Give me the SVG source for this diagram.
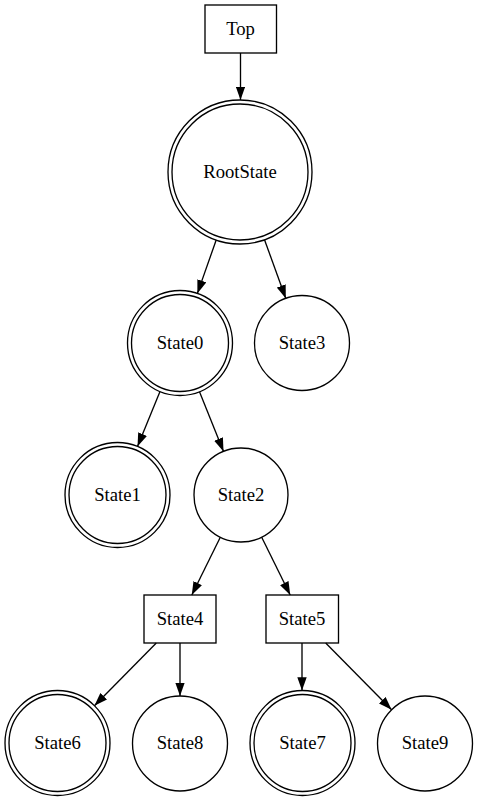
<svg xmlns="http://www.w3.org/2000/svg" width="477" height="801" viewBox="0 0 477 801">
<style>
.n{fill:none;stroke:#000;stroke-width:1.33}
.t{font-family:'Liberation Serif','DejaVu Serif','Noto Serif',Times,serif;font-size:18.67px;text-anchor:middle;fill:#000}
.e{stroke:#000;stroke-width:1.33;fill:none}
</style>
<defs>
<marker id="ah" viewBox="0 0 13.3 9.4" refX="13.3" refY="4.7" markerWidth="13.3" markerHeight="9.4" markerUnits="userSpaceOnUse" orient="auto">
<polygon points="0,0 13.3,4.7 0,9.4" fill="#000"/>
</marker>
</defs>
<rect width="477" height="801" fill="#fff"/>
<g id="connectors">
<line class="e" x1="240.5" y1="53" x2="240.5" y2="100" marker-end="url(#ah)"/>
<line class="e" x1="216.2" y1="240" x2="197.4" y2="293.4" marker-end="url(#ah)"/>
<line class="e" x1="264.5" y1="239.7" x2="285.8" y2="298.4" marker-end="url(#ah)"/>
<line class="e" x1="160" y1="391.6" x2="137.5" y2="446.4" marker-end="url(#ah)"/>
<line class="e" x1="199.5" y1="391.7" x2="223.5" y2="451.4" marker-end="url(#ah)"/>
<line class="e" x1="220.3" y1="537.2" x2="191.8" y2="595" marker-end="url(#ah)"/>
<line class="e" x1="261.7" y1="537.2" x2="290.2" y2="595" marker-end="url(#ah)"/>
<line class="e" x1="156.3" y1="643" x2="94.4" y2="705.7" marker-end="url(#ah)"/>
<line class="e" x1="180" y1="643" x2="180" y2="696" marker-end="url(#ah)"/>
<line class="e" x1="302" y1="643" x2="302" y2="690.5" marker-end="url(#ah)"/>
<line class="e" x1="325.7" y1="643" x2="391.6" y2="709.7" marker-end="url(#ah)"/>
</g>
<g id="Top"><rect class="n" x="205" y="5" width="71.5" height="48"/><text class="t" x="240.5" y="34.6">Top</text></g>
<g id="RootState"><circle class="n" cx="240" cy="172" r="72"/><circle class="n" cx="240" cy="172" r="68"/><text class="t" x="240" y="177.6">RootState</text></g>
<g id="State0"><circle class="n" cx="180" cy="343" r="52.5"/><circle class="n" cx="180" cy="343" r="48.5"/><text class="t" x="180" y="348.6">State0</text></g>
<g id="State3"><circle class="n" cx="302" cy="343" r="47.5"/><text class="t" x="302" y="348.6">State3</text></g>
<g id="State1"><circle class="n" cx="117.5" cy="495" r="52.5"/><circle class="n" cx="117.5" cy="495" r="48.5"/><text class="t" x="117.5" y="500.6">State1</text></g>
<g id="State2"><circle class="n" cx="241" cy="495" r="47"/><text class="t" x="241" y="500.6">State2</text></g>
<g id="State4"><rect class="n" x="144" y="595" width="72" height="48"/><text class="t" x="180" y="624.6">State4</text></g>
<g id="State5"><rect class="n" x="266" y="595" width="72.5" height="48"/><text class="t" x="302" y="624.6">State5</text></g>
<g id="State6"><circle class="n" cx="57.5" cy="743" r="52.5"/><circle class="n" cx="57.5" cy="743" r="48.5"/><text class="t" x="57.5" y="748.6">State6</text></g>
<g id="State8"><circle class="n" cx="180" cy="743.5" r="47.5"/><text class="t" x="180" y="749.1">State8</text></g>
<g id="State7"><circle class="n" cx="302.5" cy="743" r="52.5"/><circle class="n" cx="302.5" cy="743" r="48.5"/><text class="t" x="302.5" y="748.6">State7</text></g>
<g id="State9"><circle class="n" cx="425" cy="743.5" r="47.5"/><text class="t" x="425" y="749.1">State9</text></g>
</svg>
